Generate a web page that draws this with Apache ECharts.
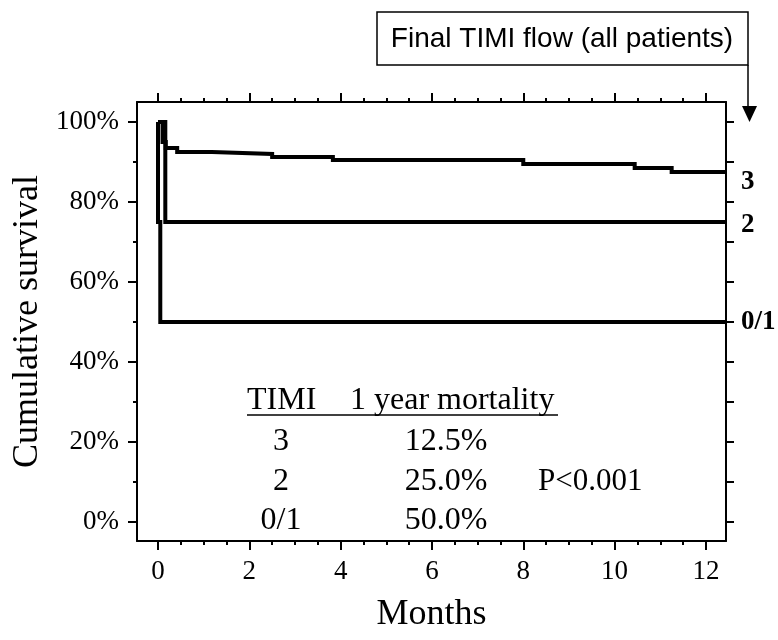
<!DOCTYPE html>
<html>
<head>
<meta charset="utf-8">
<title>Cumulative survival by final TIMI flow</title>
<script src="https://cdn.jsdelivr.net/npm/echarts@6/dist/echarts.min.js"></script>
<style>
  html, body { margin: 0; padding: 0; background: #fff; }
  #chart { width: 778px; height: 640px; }
</style>
</head>
<body>
<div id="chart"></div>
<script>
// Kaplan-Meier steps: [months, survival %] at each drop
const timi3 = [[0, 100], [0.1, 95], [0.17, 93.5], [0.42, 92.5], [1.18, 92], [2.5, 91.25],
               [3.83, 90.5], [8.0, 89.5], [10.44, 88.5], [11.25, 87.5], [12.44, 87.5]];
const timi2 = [[0, 100], [0.16, 75], [12.44, 75]];
const timi01 = [[0, 100], [0, 75], [0.05, 50], [12.44, 50]];

const seriesNames = ['3', '2', '0/1'];

// axis ticks
const monthTicks = [0, 2, 4, 6, 8, 10, 12];
const monthMinorTicks = [0, 0.5, 1, 1.5, 2, 2.5, 3, 3.5, 4, 4.5, 5, 5.5, 6, 6.5, 7, 7.5, 8, 8.5, 9, 9.5, 10, 10.5, 11, 11.5, 12];
const survivalTicks = [0, 20, 40, 60, 80, 100];
const survivalMinorTicks = [10, 30, 50, 70, 90];
const survivalRightTicks = [0, 10, 20, 30, 40, 50, 60, 70, 80, 90, 100];

// inset table
const tableHeader = ['TIMI', '1 year mortality'];
const tableGrades = ['3', '2', '0/1'];
const tableMortality = ['12.5%', '25.0%', '50.0%'];
const pValue = 'P<0.001';
const boxTitle = 'Final TIMI flow (all patients)';

const SERIF = '"Liberation Serif", "Times New Roman", serif';
const SANS = '"Liberation Sans", Arial, sans-serif';

const X_MIN = -0.46, X_MAX = 12.44;
const Y_MIN = -4.75, Y_MAX = 105;

// turn drop points into a staircase: hold the previous level until each drop time
function staircase(points) {
  const out = [points[0]];
  for (let i = 1; i < points.length; i++) {
    out.push([points[i][0], points[i - 1][1]]);
    out.push(points[i]);
  }
  return out;
}

const chart = echarts.init(document.getElementById('chart'), null, { renderer: 'canvas' });

const lineAxis = { show: true, onZero: false, lineStyle: { color: '#000', width: 2 } };
const noLine = { show: false, onZero: false };

function xAx(pos, ticks, len, showLine, extra) {
  return Object.assign({
    type: 'value', position: pos, min: X_MIN, max: X_MAX,
    axisLine: showLine ? lineAxis : noLine,
    axisTick: { show: true, customValues: ticks, length: len, lineStyle: { color: '#000', width: 2 } },
    axisLabel: { show: false },
    splitLine: { show: false }
  }, extra || {});
}
function yAx(pos, ticks, len, showLine, extra) {
  return Object.assign({
    type: 'value', position: pos, min: Y_MIN, max: Y_MAX,
    axisLine: showLine ? lineAxis : noLine,
    axisTick: { show: true, customValues: ticks, length: len, lineStyle: { color: '#000', width: 2 } },
    axisLabel: { show: false },
    splitLine: { show: false }
  }, extra || {});
}

function survivalSeries(name, data, labelOffset) {
  return {
    name: name, type: 'line', data: staircase(data),
    xAxisIndex: 0, yAxisIndex: 0,
    symbol: 'none', clip: false,
    lineStyle: { color: '#000', width: 4, join: 'miter' },
    endLabel: {
      show: true, formatter: name, distance: 15, offset: labelOffset,
      fontFamily: SERIF, fontWeight: 'bold', fontSize: 27, color: '#000'
    },
    animation: false
  };
}

const TABLE_FONT = '32px ' + SERIF;
const tableText = [];
const colGrade = 281, colMort = 446;
const rowY = [442, 482, 521];
tableText.push({ type: 'text', left: 247, top: 385, style: { text: tableHeader[0], font: TABLE_FONT, fill: '#000' } });
tableText.push({ type: 'text', left: 350, top: 385, style: { text: tableHeader[1], font: TABLE_FONT, fill: '#000' } });
tableText.push({ type: 'line', shape: { x1: 247, y1: 415, x2: 558, y2: 415 }, style: { stroke: '#000', lineWidth: 1.5 } });
tableGrades.forEach((g, i) => {
  tableText.push({ type: 'text', x: colGrade, y: rowY[i], style: { text: g, font: TABLE_FONT, fill: '#000', textAlign: 'center', textVerticalAlign: 'middle' } });
  tableText.push({ type: 'text', x: colMort, y: rowY[i], style: { text: tableMortality[i], font: TABLE_FONT, fill: '#000', textAlign: 'center', textVerticalAlign: 'middle' } });
});
tableText.push({ type: 'text', x: 538, y: rowY[1], style: { text: pValue, font: '31px ' + SERIF, fill: '#000', textAlign: 'left', textVerticalAlign: 'middle' } });

const option = {
  backgroundColor: '#fff',
  animation: false,
  grid: { left: 137, right: 52, top: 102, bottom: 99, containLabel: false },
  xAxis: [
    xAx('bottom', monthTicks, 9, true, {
      axisLabel: { show: true, customValues: monthTicks, margin: 17, fontFamily: SERIF, fontSize: 27, color: '#000' },
      name: 'Months', nameLocation: 'middle', nameGap: 56,
      nameTextStyle: { fontFamily: SERIF, fontSize: 36, color: '#000' }
    }),
    xAx('bottom', monthMinorTicks, 4, false),
    xAx('top', monthTicks, 9, true),
    xAx('top', monthMinorTicks, 4, false)
  ],
  yAxis: [
    yAx('left', survivalTicks, 9, true, {
      axisLabel: { show: true, customValues: survivalTicks, margin: 18, formatter: '{value}%', fontFamily: SERIF, fontSize: 27, color: '#000' },
      name: 'Cumulative survival', nameLocation: 'middle', nameGap: 88,
      nameTextStyle: { fontFamily: SERIF, fontSize: 36, color: '#000' }
    }),
    yAx('left', survivalMinorTicks, 4, false),
    yAx('right', survivalRightTicks, 8, true)
  ],
  series: [
    survivalSeries(seriesNames[0], timi3, [0, 10]),
    survivalSeries(seriesNames[1], timi2, [0, 3]),
    survivalSeries(seriesNames[2], timi01, [0, 0])
  ],
  graphic: [
    { type: 'rect', shape: { x: 377, y: 12, width: 371, height: 53 }, style: { fill: '#fff', stroke: '#000', lineWidth: 1.5 } },
    { type: 'text', x: 562, y: 39, style: { text: boxTitle, font: '28px ' + SANS, fill: '#000', textAlign: 'center', textVerticalAlign: 'middle' } },
    { type: 'line', shape: { x1: 748, y1: 65, x2: 748, y2: 108 }, style: { stroke: '#000', lineWidth: 1.5 } },
    { type: 'polygon', shape: { points: [[742, 106], [757, 106], [749.5, 122]] }, style: { fill: '#000' } }
  ].concat(tableText)
};

chart.setOption(option);
</script>
</body>
</html>
